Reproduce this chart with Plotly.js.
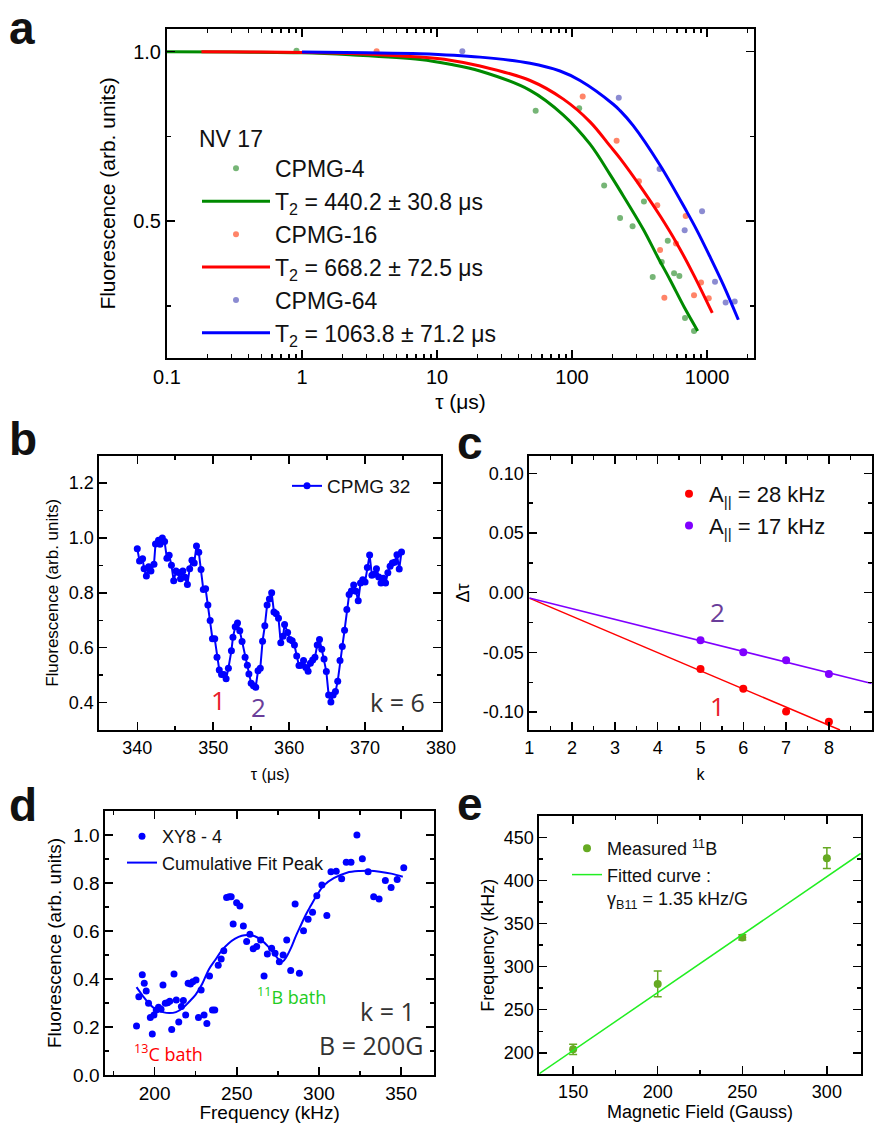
<!DOCTYPE html>
<html>
<head>
<meta charset="utf-8">
<script src="https://cdn.plot.ly/plotly-3.0.1.min.js"></script>
<style>html,body{margin:0;padding:0;background:#fff;}#chart{width:874px;height:1123px;}</style>
</head>
<body>
<div id="chart"></div>
<script>
// ---------------- Panel a data ----------------
const tauA4 = [0.91, 53.8, 113, 173, 227, 281, 341, 396, 462, 512, 570, 624, 687, 801];
const fluorA4 = [1.003, 0.826, 0.833, 0.605, 0.509, 0.485, 0.558, 0.335, 0.379, 0.442, 0.346, 0.338, 0.214, 0.176];
const tauA16 = [3.57, 120, 214, 313, 428, 449, 483, 589, 695, 801, 903, 1030];
const fluorA16 = [1.001, 0.868, 0.737, 0.618, 0.547, 0.415, 0.274, 0.434, 0.515, 0.281, 0.319, 0.272];
const tauA64 = [15.4, 222, 445, 683, 919, 1146, 1374, 1603];
const fluorA64 = [1.001, 0.864, 0.654, 0.473, 0.529, 0.321, 0.260, 0.263];

const tauFit4 = [0.1, 0.3, 1, 2.27, 7.5, 12.5, 20.8, 48.9, 86.3, 136, 191, 227, 337, 430, 532, 680, 853];
const fit4 = [1.0, 0.999, 0.997, 0.991, 0.977, 0.963, 0.943, 0.886, 0.813, 0.727, 0.638, 0.590, 0.476, 0.395, 0.327, 0.245, 0.176];
const tauFit16 = [0.18, 0.5, 1, 2.27, 7.5, 12.5, 20.8, 48.9, 86.3, 136, 191, 227, 337, 450, 596, 793, 1094];
const fit16 = [1.0, 0.999, 0.998, 0.995, 0.984, 0.975, 0.958, 0.915, 0.860, 0.793, 0.722, 0.685, 0.590, 0.515, 0.435, 0.343, 0.229];
const tauFit64 = [1, 3, 7.5, 20.8, 48.9, 81.5, 114.6, 202, 227, 284, 449, 708, 836, 1052, 1321, 1706];
const fit64 = [0.999, 0.997, 0.994, 0.984, 0.966, 0.943, 0.915, 0.845, 0.826, 0.782, 0.665, 0.528, 0.475, 0.395, 0.312, 0.209];

const namesA = ['CPMG-4', 'T<sub>2</sub> = 440.2 ± 30.8 μs', 'CPMG-16', 'T<sub>2</sub> = 668.2 ± 72.5 μs', 'CPMG-64', 'T<sub>2</sub> = 1063.8 ± 71.2 μs'];

// ---------------- Panel b data ----------------
const tauB = [340.0,340.3,340.7,340.9,341.2,341.5,341.8,342.2,342.4,342.8,343.0,343.3,343.6,343.9,344.2,344.5,344.8,345.1,345.4,345.7,346.0,346.3,346.6,346.9,347.2,347.5,347.8,348.1,348.4,348.7,349.0,349.3,349.6,349.9,350.2,350.5,350.8,351.1,351.4,351.7,352.0,352.4,352.6,352.9,353.2,353.5,353.8,354.2,354.5,354.7,355.0,355.3,355.6,355.9,356.2,356.5,356.8,357.1,357.4,357.7,358.0,358.3,358.6,358.9,359.2,359.4,359.8,360.1,360.4,360.7,361.0,361.3,361.6,361.9,362.2,362.5,362.8,363.1,363.4,363.7,364.0,364.3,364.6,364.9,365.2,365.5,365.8,366.1,366.4,366.7,367.0,367.3,367.6,367.9,368.2,368.5,368.8,369.1,369.4,369.7,370.0,370.3,370.6,370.9,371.2,371.5,371.8,372.1,372.4,372.7,373.0,373.3,373.6,373.9,374.2,374.5,374.8];
const fluorB = [0.961,0.916,0.924,0.888,0.861,0.895,0.880,0.904,0.978,0.992,0.977,1.000,0.987,0.926,0.937,0.901,0.844,0.880,0.874,0.851,0.880,0.857,0.830,0.888,0.919,0.909,0.971,0.948,0.885,0.812,0.815,0.756,0.699,0.633,0.633,0.565,0.519,0.502,0.502,0.487,0.525,0.589,0.638,0.676,0.690,0.662,0.623,0.565,0.536,0.504,0.470,0.461,0.456,0.516,0.525,0.624,0.680,0.756,0.778,0.800,0.730,0.724,0.707,0.618,0.642,0.685,0.655,0.630,0.625,0.610,0.570,0.535,0.536,0.553,0.528,0.514,0.543,0.555,0.565,0.610,0.630,0.594,0.559,0.513,0.428,0.402,0.428,0.440,0.478,0.553,0.604,0.664,0.739,0.794,0.807,0.829,0.806,0.771,0.836,0.848,0.840,0.892,0.938,0.864,0.868,0.888,0.858,0.836,0.853,0.836,0.873,0.897,0.909,0.912,0.939,0.887,0.949];

// ---------------- Panel c data ----------------
const kC = [5, 6, 7, 8];
const dTau1 = [-0.064, -0.0805, -0.0995, -0.108];
const dTau2 = [-0.0398, -0.0499, -0.0565, -0.068];
const kFit1 = [1, 8.26];
const dTauFit1 = [-0.0045, -0.115];
const kFit2 = [1, 9];
const dTauFit2 = [-0.0045, -0.076];

// ---------------- Panel d data ----------------
const freqD = [189.0,190.4,192.5,193.7,194.9,196.3,197.4,198.6,199.6,201.0,202.4,203.9,205.1,206.5,207.9,209.2,210.4,211.8,213.2,214.7,216.3,217.5,218.9,220.4,221.8,223.2,225.2,226.7,228.3,230.1,231.8,233.4,235.2,236.6,238.7,240.5,242.1,243.8,245.4,246.6,247.8,249.9,251.9,254.0,256.0,258.0,260.0,262.1,264.5,266.6,268.6,271.2,273.3,275.9,278.2,280.4,282.8,285.5,288.1,290.6,293.4,296.1,298.7,301.8,304.8,307.3,310.5,313.8,316.6,319.5,323.1,326.4,329.9,333.3,336.6,340.4,343.9,347.6,351.6];
const fluorD = [0.204,0.326,0.418,0.382,0.350,0.299,0.240,0.171,0.250,0.271,0.282,0.274,0.375,0.299,0.301,0.307,0.190,0.421,0.313,0.221,0.285,0.310,0.250,0.382,0.379,0.389,0.396,0.240,0.354,0.250,0.215,0.413,0.271,0.271,0.457,0.483,0.518,0.740,0.743,0.743,0.629,0.718,0.704,0.621,0.556,0.586,0.526,0.535,0.563,0.413,0.504,0.528,0.507,0.472,0.500,0.563,0.435,0.713,0.424,0.601,0.649,0.678,0.747,0.792,0.665,0.847,0.849,0.818,0.886,0.886,1.000,0.901,0.847,0.743,0.733,0.810,0.781,0.815,0.864];
const freqFitD = [189,193,197,201,205,209,213,217,221,225,229,233,237,241,245,249,253,257,261,265,269,273,276,278,280,283,286,289,292,295,299,303,309,317,325,331,337,344,351];
const fitD = [0.366,0.328,0.295,0.272,0.262,0.258,0.262,0.278,0.305,0.335,0.38,0.44,0.48,0.52,0.548,0.568,0.58,0.583,0.578,0.562,0.536,0.503,0.478,0.473,0.49,0.53,0.58,0.624,0.668,0.705,0.752,0.79,0.82,0.843,0.85,0.851,0.847,0.839,0.826];

// ---------------- Panel e data ----------------
const fieldE = [150, 200, 250, 300];
const freqE = [204, 280, 334, 426];
const errE = [6, 15, 3, 12];
const fieldFitE = [130, 320];
const freqFitE = [175.7, 431.5];

// ---------------- helpers ----------------
const FONT = 'Liberation Sans, Arial, sans-serif';
const W = 874, H = 1123;
const fx = px => px / W;
const fy = py => 1 - py / H;

function axis(o) {
  const base = {
    showline: true, linecolor: 'black', linewidth: 2, mirror: 'ticks',
    ticks: 'inside', ticklen: 8, tickwidth: 1.5, tickcolor: 'black',
    showgrid: false, zeroline: false, fixedrange: true,
    tickfont: {family: FONT, size: 18, color: 'black'}
  };
  return Object.assign(base, o);
}
function minor(dt) { return {ticks: 'inside', ticklen: 4, tickwidth: 1.5, tickcolor: 'black', dtick: dt, showgrid: false}; }

const traces = [
  // panel a
  {x: tauA4, y: fluorA4, xaxis: 'x', yaxis: 'y', mode: 'markers', name: namesA[0], legend: 'legend', legendgroup: 'a1',
   marker: {color: 'rgba(60,150,60,0.7)', size: 6}},
  {x: tauFit4, y: fit4, xaxis: 'x', yaxis: 'y', mode: 'lines', name: namesA[1], legend: 'legend', legendgroup: 'a2',
   line: {color: '#008a00', width: 3, shape: 'spline'}},
  {x: tauA16, y: fluorA16, xaxis: 'x', yaxis: 'y', mode: 'markers', name: namesA[2], legend: 'legend', legendgroup: 'a3',
   marker: {color: 'rgba(255,80,40,0.7)', size: 6}},
  {x: tauFit16, y: fit16, xaxis: 'x', yaxis: 'y', mode: 'lines', name: namesA[3], legend: 'legend', legendgroup: 'a4',
   line: {color: '#ff0000', width: 3, shape: 'spline'}},
  {x: tauA64, y: fluorA64, xaxis: 'x', yaxis: 'y', mode: 'markers', name: namesA[4], legend: 'legend', legendgroup: 'a5',
   marker: {color: 'rgba(90,90,190,0.7)', size: 6}},
  {x: tauFit64, y: fit64, xaxis: 'x', yaxis: 'y', mode: 'lines', name: namesA[5], legend: 'legend', legendgroup: 'a6',
   line: {color: '#0000ff', width: 3, shape: 'spline'}},
  // panel b
  {x: tauB, y: fluorB, xaxis: 'x2', yaxis: 'y2', mode: 'lines+markers', name: 'CPMG 32', legend: 'legend2',
   line: {color: '#0000ff', width: 2}, marker: {color: '#0000ff', size: 7}},
  // panel c
  {x: kC, y: dTau1, xaxis: 'x3', yaxis: 'y3', mode: 'markers', name: 'A<sub><span style="color:#111">||</span></sub> = 28 kHz', legend: 'legend3',
   marker: {color: '#ff0000', size: 8}},
  {x: kC, y: dTau2, xaxis: 'x3', yaxis: 'y3', mode: 'markers', name: 'A<sub><span style="color:#111">||</span></sub> = 17 kHz', legend: 'legend3',
   marker: {color: '#8000ff', size: 8}},
  {x: kFit1, y: dTauFit1, xaxis: 'x3', yaxis: 'y3', mode: 'lines', showlegend: false, line: {color: '#ff0000', width: 1.5}},
  {x: kFit2, y: dTauFit2, xaxis: 'x3', yaxis: 'y3', mode: 'lines', showlegend: false, line: {color: '#8000ff', width: 1.5}},
  // panel d
  {x: freqD, y: fluorD, xaxis: 'x4', yaxis: 'y4', mode: 'markers', name: 'XY8 - 4', legend: 'legend4',
   marker: {color: '#0000ff', size: 7}},
  {x: freqFitD, y: fitD, xaxis: 'x4', yaxis: 'y4', mode: 'lines', name: 'Cumulative Fit Peak', legend: 'legend4',
   line: {color: '#0000ff', width: 2, shape: 'spline'}},
  // panel e
  {x: fieldE, y: freqE, xaxis: 'x5', yaxis: 'y5', mode: 'markers', name: 'Measured <sup>11</sup>B', legend: 'legend5',
   marker: {color: '#66aa22', size: 8},
   error_y: {type: 'data', array: errE, visible: true, color: '#66aa22', thickness: 1.5, width: 4}},
  {x: fieldFitE, y: freqFitE, xaxis: 'x5', yaxis: 'y5', mode: 'lines', name: 'Fitted curve :<br>γ<sub>B11</sub> = 1.35 kHz/G', legend: 'legend5',
   line: {color: '#22ee22', width: 1.5}}
];

const legendBase = {bgcolor: 'rgba(0,0,0,0)', borderwidth: 0, xanchor: 'left', yanchor: 'top', traceorder: 'normal'};

const annFont = (size, color) => ({family: 'Open Sans, Liberation Sans, sans-serif', size: size, color: color});
function ann(text, px, py, size, color, xanchor, yanchor) {
  return {text: text, x: fx(px), y: fy(py), xref: 'paper', yref: 'paper', showarrow: false,
          xanchor: xanchor || 'center', yanchor: yanchor || 'middle', font: annFont(size, color)};
}
function letter(text, px, py) {
  const a = ann('<b>' + text + '</b>', px, py, 46, '#111', 'left', 'middle');
  a.font.family = 'Liberation Sans, Arial, sans-serif';
  a.borderpad = 0;
  return a;
}

const layout = {
  width: W, height: H, margin: {l: 0, r: 0, t: 0, b: 0},
  paper_bgcolor: 'white', plot_bgcolor: 'white',
  font: {family: FONT, color: 'black'},
  // panel a
  xaxis: axis({domain: [fx(167), fx(754)], anchor: 'y', type: 'log', range: [-1, 3.348], dtick: 1,
    tickfont: {family: FONT, size: 20, color: 'black'}, minor: minor('D1'),
    title: {text: 'τ (μs)', font: {family: FONT, size: 21}, standoff: 7}}),
  yaxis: axis({domain: [fy(358), fy(29)], anchor: 'x', range: [0.096, 1.067], dtick: 0.5, tick0: 0, tickformat: '.1f',
    tickfont: {family: FONT, size: 20, color: 'black'}, minor: minor(0.25),
    title: {text: 'Fluorescence (arb. units)', font: {family: FONT, size: 21}, standoff: 12}}),
  // panel b
  xaxis2: axis({domain: [fx(99.3), fx(441)], anchor: 'y2', range: [335, 380], dtick: 10, minor: minor(5),
    title: {text: 'τ (μs)', font: {family: FONT, size: 16}, standoff: 12}}),
  yaxis2: axis({domain: [fy(730), fy(455.7)], anchor: 'x2', range: [0.3, 1.3], dtick: 0.2, tick0: 0, tickformat: '.1f', minor: minor(0.1),
    title: {text: 'Fluorescence (arb. units)', font: {family: FONT, size: 17}, standoff: 6}}),
  // panel c
  xaxis3: axis({domain: [fx(529.3), fx(871.7)], anchor: 'y3', range: [1, 9], dtick: 1, minor: minor(0.5),
    title: {text: 'k', font: {family: FONT, size: 16}, standoff: 12}}),
  yaxis3: axis({domain: [fy(730), fy(455.7)], anchor: 'x3', range: [-0.115, 0.1148],
    tickvals: [-0.1, -0.05, 0, 0.05, 0.1], ticktext: ['-0.10', '-0.05', '0.00', '0.05', '0.10'], minor: minor(0.025),
    title: {text: 'Δτ', font: {family: FONT, size: 18}, standoff: 8}}),
  // panel d
  xaxis4: axis({domain: [fx(105.3), fx(434)], anchor: 'y4', range: [170, 370], dtick: 50, tick0: 0, minor: minor(25),
    tickfont: {family: FONT, size: 19, color: 'black'},
    title: {text: 'Frequency (kHz)', font: {family: FONT, size: 19}, standoff: 4}}),
  yaxis4: axis({domain: [fy(1075), fy(811)], anchor: 'x4', range: [0, 1.1], dtick: 0.2, tick0: 0, tickformat: '.1f', minor: minor(0.1),
    tickfont: {family: FONT, size: 19, color: 'black'},
    title: {text: 'Fluorescence (arb. units)', font: {family: FONT, size: 19}, standoff: 6}}),
  // panel e
  xaxis5: axis({domain: [fx(539.3), fx(860.7)], anchor: 'y5', range: [130, 320], dtick: 50, tick0: 0, minor: minor(25),
    title: {text: 'Magnetic Field (Gauss)', font: {family: FONT, size: 18}, standoff: 4}}),
  yaxis5: axis({domain: [fy(1074.3), fy(816)], anchor: 'x5', range: [175, 475], dtick: 50, tick0: 0, minor: minor(25),
    title: {text: 'Frequency (kHz)', font: {family: FONT, size: 18}, standoff: 4}}),
  legend: Object.assign({}, legendBase, {x: fx(197), y: fy(117), traceorder: 'grouped', tracegroupgap: 0, itemwidth: 68,
    title: {text: 'NV 17', font: {family: FONT, size: 23}, side: 'top'},
    font: {family: FONT, size: 23, color: '#111'}}),
  legend2: Object.assign({}, legendBase, {x: fx(287), y: fy(467), font: {family: FONT, size: 19, color: '#111'}}),
  legend3: Object.assign({}, legendBase, {x: fx(669), y: fy(473), font: {family: FONT, size: 22, color: '#111'}}),
  legend4: Object.assign({}, legendBase, {x: fx(122), y: fy(818), font: {family: FONT, size: 18, color: '#111'}}),
  legend5: Object.assign({}, legendBase, {x: fx(567), y: fy(830), valign: 'top', font: {family: FONT, size: 18, color: '#111'}}),
  annotations: [
    letter('a', 8, 28),
    letter('b', 8, 439),
    letter('c', 456, 443),
    letter('d', 8, 805),
    letter('e', 456, 804),
    ann('1', 218.7, 700, 26, '#e8202a'),
    ann('2', 258.3, 707, 26, '#6a3d9a'),
    ann('k = 6', 397, 702, 25, '#333'),
    ann('2', 717.7, 612, 26, '#6a3d9a'),
    ann('1', 717.7, 706, 26, '#e8202a'),
    ann('<sup>13</sup>C bath', 168, 1053, 18, '#ff0000'),
    ann('<sup>11</sup>B bath', 291, 996, 18, '#22cc22'),
    ann('k = 1', 387, 1011, 25, '#333'),
    ann('B = 200G', 371, 1045, 25, '#333')
  ]
};

Plotly.newPlot('chart', traces, layout, {displayModeBar: false, staticPlot: true});
</script>
</body>
</html>
